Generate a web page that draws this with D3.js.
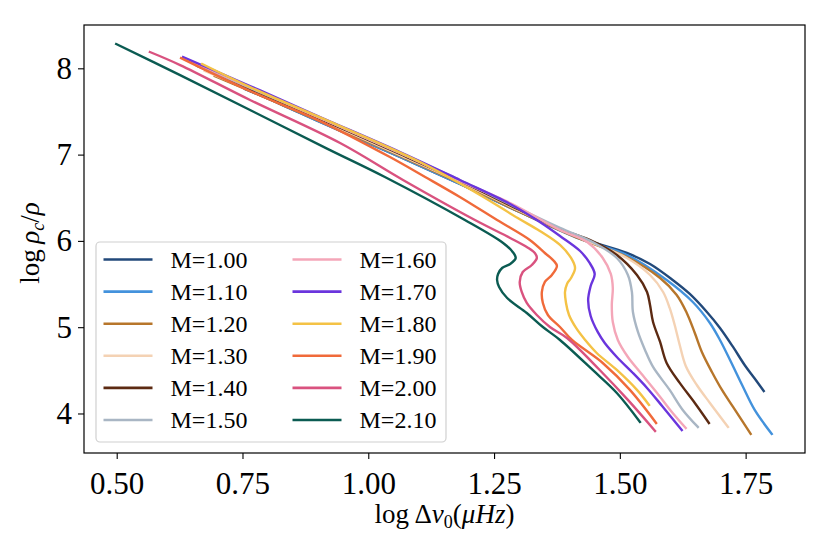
<!DOCTYPE html>
<html>
<head>
<meta charset="utf-8">
<script src="https://cdn.jsdelivr.net/npm/d3@7"></script>
<style>
  html, body { margin: 0; padding: 0; background: #ffffff; }
  svg { display: block; }
  text { font-family: "Liberation Serif", "DejaVu Serif", serif; fill: #000; }
</style>
</head>
<body>
<svg id="chart" width="830" height="554"></svg>
<script>
// ---------------- data ----------------
const seriesLabels = ["M=1.00","M=1.10","M=1.20","M=1.30","M=1.40","M=1.50",
                      "M=1.60","M=1.70","M=1.80","M=1.90","M=2.00","M=2.10"];
const seriesColors = ["#22497a","#4392dc","#b7762b","#f4d2b4","#5c2a12","#a9b6c4",
                      "#f4a6b8","#6a35dd","#f4c245","#f06a3a","#d9527f","#0b5b52"];

const m100_x = [0.755,0.825,0.904,1.063,1.182,1.301,1.421,1.514,1.560,1.605,1.639,1.673,1.699,1.725,1.748,1.768,1.786];
const m100_y = [7.760,7.586,7.378,6.972,6.659,6.335,6.034,5.860,5.732,5.547,5.385,5.176,4.991,4.771,4.562,4.405,4.261];

const m110_x = [0.729,0.785,0.904,1.063,1.182,1.301,1.421,1.514,1.593,1.645,1.679,1.699,1.719,1.743,1.768,1.802];
const m110_y = [7.830,7.691,7.378,6.972,6.659,6.335,6.022,5.837,5.547,5.292,5.049,4.852,4.620,4.330,4.041,3.763];

const m120_x = [0.695,0.765,0.904,1.063,1.182,1.301,1.421,1.514,1.580,1.613,1.633,1.649,1.663,1.683,1.703,1.725,1.760];
const m120_y = [7.911,7.737,7.389,6.984,6.671,6.335,6.022,5.814,5.570,5.373,5.165,4.933,4.713,4.481,4.273,4.076,3.763];

const m130_x = [0.675,0.765,0.904,1.063,1.182,1.301,1.421,1.514,1.560,1.586,1.599,1.609,1.619,1.631,1.653,1.679,1.715];
const m130_y = [7.969,7.749,7.401,6.995,6.683,6.347,6.034,5.802,5.605,5.408,5.223,5.026,4.794,4.551,4.330,4.122,3.844];

const m140_x = [0.660,0.765,0.904,1.063,1.182,1.301,1.381,1.440,1.494,1.534,1.554,1.560,1.566,1.580,1.593,1.619,1.649,1.677];
const m140_y = [8.027,7.760,7.413,7.007,6.694,6.358,6.138,6.011,5.837,5.605,5.408,5.257,5.060,4.829,4.585,4.354,4.122,3.890];

const m150_x = [0.646,0.765,0.904,1.063,1.182,1.301,1.381,1.446,1.494,1.516,1.524,1.526,1.536,1.550,1.566,1.599,1.625,1.655];
const m150_y = [8.073,7.772,7.424,7.019,6.706,6.370,6.150,5.987,5.802,5.605,5.408,5.176,4.945,4.736,4.539,4.273,4.041,3.844];

const m160_x = [0.638,0.765,0.904,1.063,1.182,1.282,1.381,1.435,1.466,1.482,1.486,1.484,1.486,1.496,1.516,1.540,1.574,1.605,1.631];
const m160_y = [8.108,7.783,7.424,7.019,6.694,6.439,6.126,5.987,5.802,5.617,5.454,5.257,5.060,4.852,4.655,4.481,4.238,4.006,3.832];

const m170_x = [0.632,0.765,0.904,1.063,1.182,1.282,1.341,1.381,1.421,1.440,1.450,1.442,1.437,1.442,1.456,1.470,1.494,1.526,1.554,1.584,1.623];
const m170_y = [8.131,7.795,7.436,7.030,6.706,6.428,6.219,6.057,5.883,5.744,5.617,5.478,5.315,5.130,4.945,4.817,4.655,4.469,4.296,4.087,3.809];

const m180_x = [0.670,0.765,0.944,1.103,1.222,1.297,1.341,1.381,1.403,1.411,1.403,1.395,1.391,1.393,1.399,1.413,1.431,1.454,1.494,1.534,1.558];
const m180_y = [8.050,7.783,7.331,6.914,6.532,6.265,6.115,5.953,5.802,5.686,5.570,5.501,5.408,5.281,5.141,4.991,4.852,4.701,4.504,4.273,4.099];

const m190_x = [0.628,0.765,0.904,1.043,1.113,1.182,1.256,1.321,1.351,1.369,1.375,1.365,1.351,1.345,1.347,1.357,1.381,1.405,1.466,1.520,1.572];
const m190_y = [8.119,7.737,7.389,6.972,6.741,6.509,6.242,6.011,5.860,5.767,5.709,5.605,5.524,5.408,5.281,5.141,5.002,4.852,4.585,4.273,3.890];

const m200_x = [0.566,0.626,0.765,0.944,1.069,1.212,1.282,1.315,1.331,1.335,1.325,1.307,1.301,1.305,1.315,1.335,1.361,1.395,1.460,1.516,1.570];
const m200_y = [8.189,8.038,7.633,7.134,6.706,6.242,6.034,5.929,5.860,5.802,5.721,5.640,5.524,5.408,5.281,5.141,5.002,4.875,4.504,4.157,3.797];

const m210_x = [0.499,0.626,0.765,0.918,1.033,1.192,1.268,1.287,1.293,1.282,1.266,1.258,1.256,1.260,1.276,1.315,1.347,1.381,1.446,1.494,1.540];
const m210_y = [8.282,7.922,7.517,7.070,6.741,6.242,5.976,5.872,5.802,5.732,5.686,5.617,5.547,5.466,5.338,5.165,5.002,4.852,4.504,4.238,3.902];

const seriesX = [m100_x,m110_x,m120_x,m130_x,m140_x,m150_x,m160_x,m170_x,m180_x,m190_x,m200_x,m210_x];
const seriesY = [m100_y,m110_y,m120_y,m130_y,m140_y,m150_y,m160_y,m170_y,m180_y,m190_y,m200_y,m210_y];

const xTicks = [0.50, 0.75, 1.00, 1.25, 1.50, 1.75];
const yTicks = [4, 5, 6, 7, 8];
const xDomain = [0.435, 1.868];
const yDomain = [3.542, 8.502];

// ---------------- layout ----------------
const svg = d3.select("#chart");
const plot = {left: 84, top: 25, right: 805, bottom: 453};

const x = d3.scaleLinear().domain(xDomain).range([plot.left, plot.right]);
const y = d3.scaleLinear().domain(yDomain).range([plot.bottom, plot.top]);

svg.append("defs").append("clipPath").attr("id", "clip")
  .append("rect").attr("x", plot.left).attr("y", plot.top)
  .attr("width", plot.right - plot.left).attr("height", plot.bottom - plot.top);

const line = d3.line()
  .x(d => x(d[0])).y(d => y(d[1]))
  .curve(d3.curveCatmullRom.alpha(0.5));

const linesG = svg.append("g").attr("clip-path", "url(#clip)");
seriesX.forEach((xs, i) => {
  const pts = xs.map((v, j) => [v, seriesY[i][j]]);
  linesG.append("path")
    .attr("d", line(pts))
    .attr("fill", "none")
    .attr("stroke", seriesColors[i])
    .attr("stroke-width", 2.4)
    .attr("stroke-linejoin", "round")
    .attr("stroke-linecap", "square");
});

// axes
const xAxis = d3.axisBottom(x).tickValues(xTicks).tickFormat(d3.format(".2f"))
  .tickSizeInner(6).tickSizeOuter(0).tickPadding(6);
const yAxis = d3.axisLeft(y).tickValues(yTicks).tickFormat(d3.format("d"))
  .tickSizeInner(6).tickSizeOuter(0).tickPadding(6);

const gx = svg.append("g").attr("transform", `translate(0,${plot.bottom})`).call(xAxis);
const gy = svg.append("g").attr("transform", `translate(${plot.left},0)`).call(yAxis);
[gx, gy].forEach(g => {
  g.select(".domain").remove();
  g.selectAll(".tick line").attr("stroke", "#000").attr("stroke-width", 1.1);
  g.selectAll(".tick text").attr("font-family", "Liberation Serif, DejaVu Serif, serif")
    .attr("font-size", 31).attr("fill", "#000");
});
gx.selectAll(".tick text").attr("dy", "0.93em");

// frame
svg.append("rect")
  .attr("x", plot.left).attr("y", plot.top)
  .attr("width", plot.right - plot.left).attr("height", plot.bottom - plot.top)
  .attr("fill", "none").attr("stroke", "#000").attr("stroke-width", 1.2);

// axis labels
const xl = svg.append("text")
  .attr("x", (plot.left + plot.right) / 2).attr("y", 523)
  .attr("text-anchor", "middle").attr("font-size", 27);
xl.append("tspan").text("log\u2009\u0394");
xl.append("tspan").attr("font-style", "italic").text("\u03BD");
xl.append("tspan").attr("font-size", 18).attr("dy", 5).text("0");
xl.append("tspan").attr("dy", -5).text("(");
xl.append("tspan").attr("font-style", "italic").text("\u03BCHz");
xl.append("tspan").text(")");

const yl = svg.append("text")
  .attr("transform", `translate(39,${(plot.top + plot.bottom) / 2 + 4}) rotate(-90)`)
  .attr("text-anchor", "middle").attr("font-size", 27);
yl.append("tspan").text("log\u2009");
yl.append("tspan").attr("font-style", "italic").text("\u03C1");
yl.append("tspan").attr("font-style", "italic").attr("font-size", 18).attr("dy", 5).text("c");
yl.append("tspan").attr("dy", -5).text("/");
yl.append("tspan").attr("font-style", "italic").text("\u03C1");

// legend
const leg = svg.append("g");
leg.append("rect")
  .attr("x", 96).attr("y", 242).attr("width", 350).attr("height", 200)
  .attr("rx", 4).attr("ry", 4)
  .attr("fill", "#ffffff").attr("fill-opacity", 0.85)
  .attr("stroke", "#d0d0d0").attr("stroke-width", 1.2);

seriesLabels.forEach((lab, i) => {
  const col = Math.floor(i / 6), row = i % 6;
  const lx = 103.5 + col * 189, ly = 259.5 + row * 32.1;
  leg.append("line")
    .attr("x1", lx).attr("x2", lx + 49).attr("y1", ly).attr("y2", ly)
    .attr("stroke", seriesColors[i]).attr("stroke-width", 2.6);
  leg.append("text")
    .attr("x", lx + 67).attr("y", ly).attr("dy", "0.35em")
    .attr("font-size", 24).text(lab);
});
</script>
</body>
</html>
